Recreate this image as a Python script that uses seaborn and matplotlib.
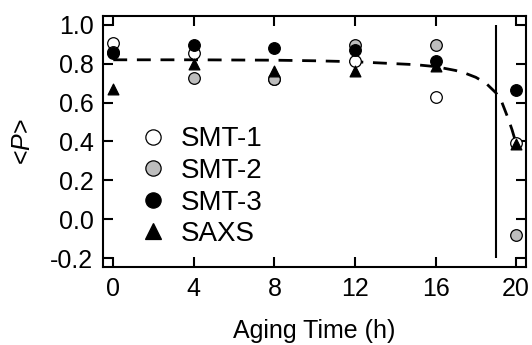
import matplotlib
matplotlib.use("Agg")
import matplotlib.pyplot as plt
import seaborn as sns
import pandas as pd
from matplotlib.lines import Line2D

sns.set_theme(style="ticks")
plt.rcParams['font.family'] = ['Liberation Sans', 'DejaVu Sans']
plt.rcParams['mathtext.fontset'] = 'custom'
plt.rcParams['mathtext.it'] = 'Liberation Sans:italic'
plt.rcParams['text.color'] = 'black'
plt.rcParams['axes.labelcolor'] = 'black'

aging_time = [0, 4, 8, 12, 16, 20]
smt1 = [0.907, 0.856, 0.72, 0.815, 0.63, 0.39]
smt2 = [0.86, 0.727, 0.72, 0.897, 0.897, -0.08]
smt3 = [0.856, 0.897, 0.88, 0.87, 0.815, 0.665]
saxs = [0.67, 0.80, 0.76, 0.76, 0.79, 0.385]

fit_x = [0, 4, 8, 10, 12, 14, 15, 16, 17, 17.5, 18, 18.5, 19, 19.3, 19.6, 19.8, 20]
fit_y = [0.82, 0.82, 0.818, 0.815, 0.81, 0.80, 0.795, 0.785, 0.765, 0.75, 0.73, 0.70, 0.65, 0.60, 0.52, 0.46, 0.39]

series_names = ["SMT-1", "SMT-2", "SMT-3", "SAXS"]
series_vals = [smt1, smt2, smt3, saxs]
face = ["white", "#bdbdbd", "black", "black"]
marks = ["o", "o", "o", "^"]

xticks = [0, 4, 8, 12, 16, 20]
yticks = [-0.2, 0.0, 0.2, 0.4, 0.6, 0.8, 1.0]

fig = plt.figure(figsize=(5.32, 3.45), dpi=100)
ax = fig.add_axes([0.194, 0.226, 0.795, 0.728])

fit_df = pd.DataFrame({"x": fit_x, "y": fit_y})
sns.lineplot(data=fit_df, x="x", y="y", ax=ax, color="black", lw=2.0,
             dashes=False, sort=False, estimator=None, zorder=2)
ax.lines[-1].set_dashes([5, 3.5])

handles = []
for name, vals, fc, m in zip(series_names, series_vals, face, marks):
    df = pd.DataFrame({"x": aging_time, "y": vals})
    sns.scatterplot(data=df, x="x", y="y", ax=ax, marker=m, s=70 if m == "o" else 60,
                    color=fc, edgecolor="black", linewidth=0.9, zorder=3)
    handles.append(Line2D([], [], marker=m, ls="none", markersize=11,
                          markerfacecolor=fc, markeredgecolor="black",
                          markeredgewidth=0.9, label=name))

ax.vlines(19, -0.2, 1.0, color="black", lw=1.5, zorder=2)

ax.set_xlim(-0.5, 20.5)
ax.set_ylim(-0.246, 1.046)
ax.set_xticks(xticks)
ax.set_yticks(yticks)
ax.set_xticklabels([str(t) for t in xticks])
ax.set_yticklabels(["-0.2", "0.0", "0.2", "0.4", "0.6", "0.8", "1.0"])
ax.tick_params(direction="in", length=7, width=1.5, labelsize=18,
               top=True, right=True, pad=7, colors="black")
for s in ax.spines.values():
    s.set_linewidth(1.5)
    s.set_color("black")
ax.set_xlabel("Aging Time (h)", fontsize=18, labelpad=13)
ax.set_ylabel(r"<$\it{P}$>", fontsize=18, labelpad=11)

leg = ax.legend(handles=handles, loc="lower left", bbox_to_anchor=(0.053, 0.035),
                frameon=False, fontsize=20, handletextpad=0.4, labelspacing=0.2,
                handlelength=1.2, borderaxespad=0)

fig.savefig("out.png", dpi=100)
